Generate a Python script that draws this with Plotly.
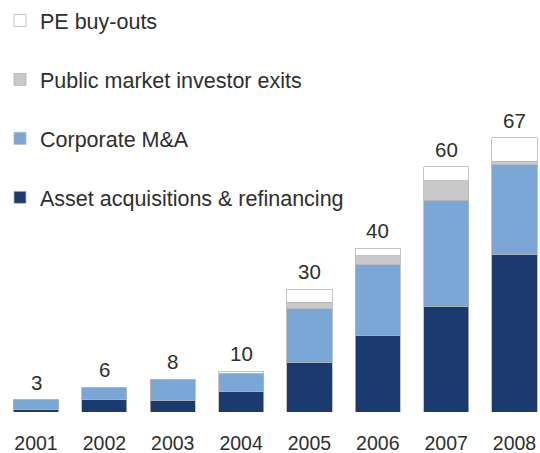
import plotly.graph_objects as go

years = ["2001", "2002", "2003", "2004", "2005", "2006", "2007", "2008"]
asset_acq = [0.7, 3.0, 2.7, 5.0, 12.0, 18.7, 25.8, 38.4]
corporate_ma = [2.3, 3.0, 5.3, 4.5, 13.2, 17.3, 26.0, 22.0]
public_exits = [0.0, 0.0, 0.0, 0.0, 1.6, 2.2, 4.7, 0.9]
pe_buyouts = [0.0, 0.0, 0.0, 0.5, 3.2, 1.8, 3.5, 5.7]
totals = [3, 6, 8, 10, 30, 40, 60, 67]

series = [
    ("Asset acquisitions & refinancing", asset_acq, "#1b3a6f"),
    ("Corporate M&A", corporate_ma, "#7ba7d6"),
    ("Public market investor exits", public_exits, "#c9c9c9"),
    ("PE buy-outs", pe_buyouts, "#ffffff"),
]

FONT = "Liberation Sans, Arial, sans-serif"
TEXT = "#2e2e2e"

fig = go.Figure()
n = len(series)
for i, (name, vals, color) in enumerate(series):
    fig.add_trace(go.Bar(
        x=years, y=vals, name=name, legendgroup=name,
        legendrank=n - i,
        marker=dict(color=color, line=dict(color="#b5b5b5", width=0.8)),
        width=0.66,
    ))

# Total value written above each stacked bar (category index positions)
for idx, tot in enumerate(totals):
    fig.add_annotation(
        x=idx, y=tot, xref="x", yref="y", text=str(tot), showarrow=False,
        yanchor="bottom", yshift=4,
        font=dict(family=FONT, size=20.5, color=TEXT),
    )

fig.update_layout(
    width=540, height=453,
    margin=dict(l=0, r=0, t=0, b=41, autoexpand=False),
    barmode="stack",
    plot_bgcolor="white", paper_bgcolor="white",
    font=dict(family=FONT, color=TEXT, size=19),
    showlegend=True,
    legend=dict(
        x=0.0, y=1.0, xanchor="left", yanchor="top",
        traceorder="grouped", tracegroupgap=28,
        font=dict(family=FONT, size=21.5, color=TEXT),
        bgcolor="rgba(0,0,0,0)", itemwidth=30,
    ),
    xaxis=dict(
        type="category", range=[-0.527, 7.373], automargin=False,
        showgrid=False, zeroline=False, showline=False, ticks="",
        ticklabelstandoff=17,
        tickfont=dict(family=FONT, size=19.5, color=TEXT),
    ),
    yaxis=dict(
        range=[0, 100.7], visible=False, showgrid=False, zeroline=False,
        automargin=False,
    ),
)

fig.write_html("out.html")
